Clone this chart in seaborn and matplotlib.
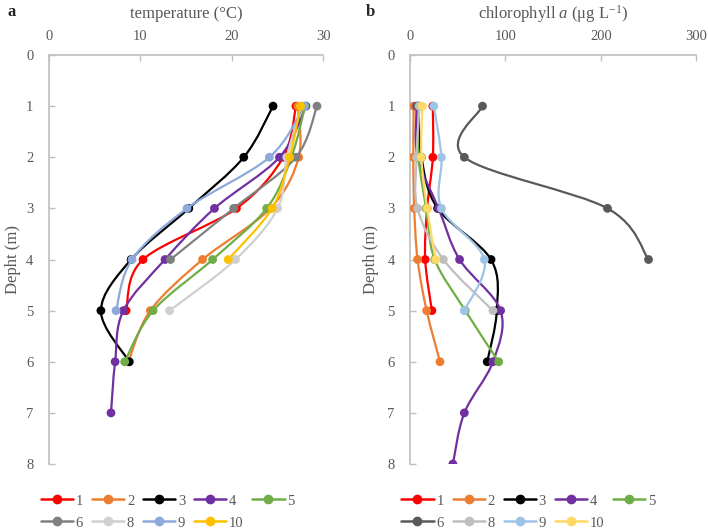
import numpy as np
import pandas as pd
import matplotlib
matplotlib.use("Agg")
import matplotlib.pyplot as plt
import seaborn as sns
from matplotlib.path import Path
from matplotlib.patches import PathPatch
from matplotlib.lines import Line2D

sns.set_theme(style="white")
plt.rcParams['font.family'] = ['Liberation Serif', 'DejaVu Serif']
plt.rcParams['mathtext.fontset'] = 'custom'
plt.rcParams['mathtext.rm'] = 'Liberation Serif'
plt.rcParams['mathtext.it'] = 'Liberation Serif:italic'

# ---------------- data ----------------
stations = ['1', '2', '3', '4', '5', '6', '8', '9', '10']

temp_1 = [27.0, 25.6, 20.5, 10.3, 8.45]
temp_2 = [27.2, 27.3, 24.2, 16.8, 11.1, 8.7]
temp_3 = [24.5, 21.3, 15.3, 9.0, 5.7, 8.8]
temp_4 = [28.1, 25.2, 18.1, 12.7, 8.15, 7.25, 6.8]
temp_5 = [28.0, 26.5, 23.8, 17.9, 11.4, 8.3]
temp_6 = [29.3, 27.0, 20.2, 13.3]
temp_8 = [27.6, 26.0, 25.0, 20.4, 13.2]
temp_9 = [27.9, 24.1, 15.1, 9.1, 7.35]
temp_10 = [27.5, 26.3, 24.4, 19.6]

chl_1 = [24, 24, 18, 16, 23]
chl_2 = [4, 3.5, 4.5, 8, 17.5, 31.5]
chl_3 = [9, 12, 29, 85, 91, 81]
chl_4 = [7, 8, 30, 52, 95, 87, 57, 45]
chl_5 = [9, 9, 17, 26, 58, 93]
chl_6 = [76, 57, 207, 250]
chl_8 = [10, 7, 8, 35, 87]
chl_9 = [25, 33, 33, 78, 57]
chl_10 = [13, 12, 18, 27]

temps = [temp_1, temp_2, temp_3, temp_4, temp_5, temp_6, temp_8, temp_9, temp_10]
chls = [chl_1, chl_2, chl_3, chl_4, chl_5, chl_6, chl_8, chl_9, chl_10]

colors_a = ['#FF0000', '#ED7D31', '#000000', '#7030A0', '#70AD47',
            '#808080', '#D0D0D0', '#8EA9DB', '#FFC000']
colors_b = ['#FF0000', '#ED7D31', '#000000', '#7030A0', '#70AD47',
            '#595959', '#BFBFBF', '#9DC3E6', '#FFD966']

temp_ticks = [0, 10, 20, 30]
chl_ticks = [0, 100, 200, 300]
depth_ticks = list(range(0, 9))

GRAY = '#BFBFBF'
TXT = '#595959'


def smooth_path(xs, ys):
    pts = np.column_stack([xs, ys]).astype(float)
    n = len(pts)
    verts = [pts[0]]
    codes = [Path.MOVETO]
    for i in range(n - 1):
        p0 = pts[i - 1] if i > 0 else pts[i]
        p1 = pts[i]
        p2 = pts[i + 1]
        p3 = pts[i + 2] if i + 2 < n else pts[i + 1]
        c1 = p1 + (p2 - p0) / 6.0
        c2 = p2 - (p3 - p1) / 6.0
        verts += [c1, c2, p2]
        codes += [Path.CURVE4] * 3
    return Path(verts, codes)


def draw_panel(ax, series, colors, xlim, xticks, xlabel, ylabel, ylabelpad):
    for k, (name, vals) in enumerate(zip(stations, series)):
        depth = np.arange(1, len(vals) + 1)
        df = pd.DataFrame({'value': vals, 'depth': depth})
        patch = PathPatch(smooth_path(df['value'].values, df['depth'].values),
                          facecolor='none', edgecolor=colors[k], lw=1.6,
                          zorder=2 + 2 * k, capstyle='round')
        ax.add_patch(patch)
        sns.scatterplot(data=df, x='value', y='depth', ax=ax, color=colors[k],
                        s=40, edgecolor='none', zorder=3 + 2 * k, legend=False)
    ax.set_xlim(*xlim)
    ax.set_ylim(8, 0)
    ax.set_xticks(xticks)
    ax.set_yticks(depth_ticks)
    ax.xaxis.tick_top()
    ax.xaxis.set_label_position('top')
    for s in ['right', 'bottom']:
        ax.spines[s].set_visible(False)
    for s in ['top', 'left']:
        ax.spines[s].set_color(GRAY)
        ax.spines[s].set_linewidth(1.2)
    ax.tick_params(axis='x', direction='in', length=4, color=GRAY, width=1,
                   labelsize=10.5, labelcolor=TXT, pad=9, top=True, bottom=False)
    ax.tick_params(axis='y', direction='in', length=4, color=GRAY, width=1,
                   labelsize=10.5, labelcolor=TXT, pad=11, left=True)
    ax.set_xlabel(xlabel, fontsize=12, color=TXT, labelpad=8)
    ax.set_ylabel(ylabel, fontsize=12, color=TXT, labelpad=ylabelpad)
    ax.set_facecolor('white')

    # legend, row-major order via column-major fill
    handles = [Line2D([0], [0], color=c, lw=1.8, marker='o', markersize=6)
               for c in colors]
    order = [0, 5, 1, 6, 2, 7, 3, 8, 4]
    leg = ax.legend([handles[i] for i in order], [stations[i] for i in order],
                    ncol=5, loc='upper left', bbox_to_anchor=(-0.05, -0.06),
                    frameon=False, fontsize=10.5, handlelength=2.2,
                    handletextpad=0.2, columnspacing=0.6, labelspacing=0.6,
                    borderaxespad=0)
    for t in leg.get_texts():
        t.set_color(TXT)


fig = plt.figure(figsize=(7.08, 5.28), dpi=100)
ax1 = fig.add_axes([0.0688, 0.1212, 0.388, 0.7746])
ax2 = fig.add_axes([0.579, 0.1212, 0.4044, 0.7746])

draw_panel(ax1, temps, colors_a, (0, 30), temp_ticks, 'temperature (°C)',
           'Depht (m)', 4)
draw_panel(ax2, chls, colors_b, (0, 300), chl_ticks,
           r'chlorophyll $a$ (μg L$^{\mathregular{-1}}$)', 'Depth (m)', 6)

fig.text(0.011, 0.977, 'a', fontsize=12, fontweight='bold', va='center', ha='left')
fig.text(0.517, 0.977, 'b', fontsize=12, fontweight='bold', va='center', ha='left')

fig.savefig('out.png', dpi=100, facecolor='white')
